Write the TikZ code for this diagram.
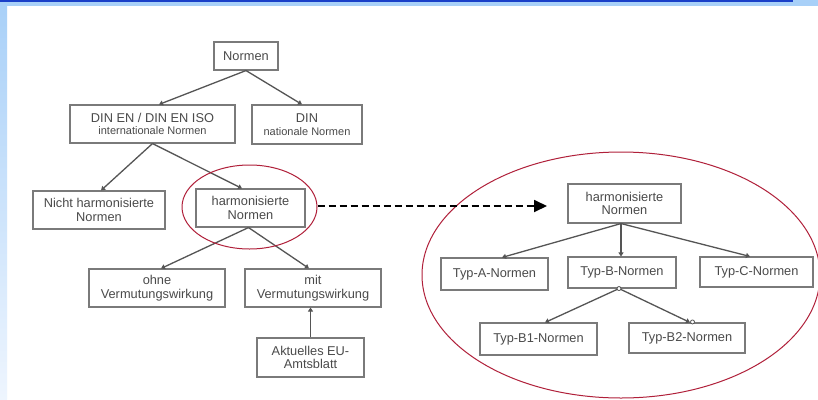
\documentclass[tikz,border=0pt]{standalone}
\usepackage{fontspec}
\setmainfont{Liberation Sans}
\usetikzlibrary{arrows.meta,shapes.geometric,shadows}
\definecolor{boxline}{HTML}{7A7A7A}
\definecolor{txt}{HTML}{4A4A4A}
\definecolor{conn}{HTML}{555555}
\definecolor{ellred}{HTML}{B0203A}
\definecolor{frameblue}{HTML}{A8D0F8}
\definecolor{framelight}{HTML}{EEF5FE}
\definecolor{darkblue}{HTML}{1A3FC8}
\tikzset{
  box/.style={draw=boxline, line width=1.1pt, fill=white, text=txt, align=center,
    inner sep=1pt, font=\fontsize{12.8}{13.5}\selectfont,
    drop shadow={shadow xshift=1.2pt, shadow yshift=-1.2pt, fill=black!30, opacity=0.5}},
  small/.style={font=\fontsize{11}{12}\selectfont},
  conline/.style={draw=conn, line width=1.3pt, -{Triangle[length=4pt,width=5pt]}},
  ring/.style={draw=ellred, line width=1pt, ellipse, inner sep=0pt},
  opendot/.style={circle, draw=conn, fill=white, line width=0.8pt, inner sep=0pt, minimum size=4pt},
  dasharrow/.style={draw=black, line width=1.8pt, dash pattern=on 7pt off 4pt,
    -{Triangle[length=13pt,width=12pt]}}
}
\begin{document}
\begin{tikzpicture}[x=1pt,y=-1pt]
\useasboundingbox (0,0) rectangle (818,399);
% frame
\fill[white] (0,0) rectangle (818,399);
\shade[top color=frameblue, bottom color=framelight] (0,0) rectangle (7,399);
\fill[frameblue] (0,0) rectangle (818,6);
\draw[darkblue, line width=1.6pt] (0,0.8) -- (793,0.8);

% left tree
\node[box, minimum width=64pt, minimum height=28pt] (n0) at (246,56) {Normen};
\node[box, minimum width=165pt, minimum height=38pt] (n1) at (152.5,124) {DIN EN / DIN EN ISO\\[-1pt]{\fontsize{11}{12}\selectfont internationale Normen}};
\node[box, minimum width=110pt, minimum height=39pt] (n2) at (307,124.5) {DIN\\[-1pt]{\fontsize{11}{12}\selectfont nationale Normen}};
\node[box, minimum width=132pt, minimum height=38pt] (n3) at (99,210) {Nicht harmonisierte\\Normen};
\node[box, minimum width=109pt, minimum height=38pt] (n4) at (250.5,208) {harmonisierte\\Normen};
\node[box, minimum width=136pt, minimum height=38pt] (n5) at (157,288) {ohne\\Vermutungswirkung};
\node[box, minimum width=136pt, minimum height=38pt] (n6) at (313,288) {mit\\Vermutungswirkung};
\node[box, minimum width=107pt, minimum height=39pt] (n7) at (310.5,357.5) {Aktuelles EU-\\Amtsblatt};

\draw[conline] (n0.south) -- ([xshift=6.5pt]n1.north);
\draw[conline] (n0.south) -- ([xshift=-5pt]n2.north);
\draw[conline] (n1.south) -- ([xshift=2pt]n3.north);
\draw[conline] (n1.south) -- ([xshift=-8.5pt]n4.north);
\draw[conline] ([xshift=-2pt]n4.south) -- ([xshift=4pt]n5.north);
\draw[conline] ([xshift=-2pt]n4.south) -- ([xshift=-4pt]n6.north);
\draw[conline] (n7.north) -- (n7.north |- n6.south);

% right tree
\node[box, minimum width=113pt, minimum height=39pt] (r0) at (624.5,203.5) {harmonisierte\\Normen};
\node[box, minimum width=107pt, minimum height=32pt] (rA) at (494.5,274) {Typ-A-Normen};
\node[box, minimum width=108pt, minimum height=31pt] (rB) at (622,272.5) {Typ-B-Normen};
\node[box, minimum width=113pt, minimum height=30pt] (rC) at (756.5,272) {Typ-C-Normen};
\node[box, minimum width=117pt, minimum height=32pt] (rB1) at (538.5,339) {Typ-B1-Normen};
\node[box, minimum width=116pt, minimum height=30pt] (rB2) at (687,338) {Typ-B2-Normen};

\draw[conline] ([xshift=-3.5pt]r0.south) -- ([xshift=7.5pt]rA.north);
\draw[conline] ([xshift=-3.5pt]r0.south) -- ([xshift=-1pt]rB.north);
\draw[conline] ([xshift=-3.5pt]r0.south) -- ([xshift=-6.5pt]rC.north);
\draw[conline] ([xshift=-3pt]rB.south) -- ([xshift=6.5pt]rB1.north);
\draw[conline] ([xshift=-3pt]rB.south) -- ([xshift=3pt]rB2.north);
\node[opendot] (oB) at ([xshift=-3pt]rB.south) {};
\node[opendot] (oB2) at ([xshift=5.5pt,yshift=0.5pt]rB2.north) {};

% ellipses
\node[ring, minimum width=135pt, minimum height=84pt] (ellL) at (249.5,207) {};
\node[ring, minimum width=398pt, minimum height=246pt] (ellR) at (621,275) {};

% dashed arrow
\coordinate (dashE) at (547,206);
\draw[dasharrow] ([yshift=1pt]ellL.east) -- (dashE);
\end{tikzpicture}
\end{document}
